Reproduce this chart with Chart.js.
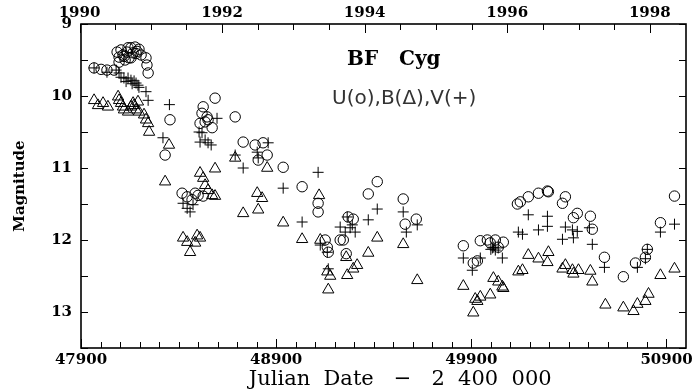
<!DOCTYPE html>
<html>
<head>
<meta charset="utf-8">
<script src="https://cdn.jsdelivr.net/npm/chart.js@4.4.1/dist/chart.umd.min.js"></script>
<style>
  html, body { margin: 0; padding: 0; background: #fff; }
</style>
</head>
<body>
<canvas id="chart" width="696" height="392"></canvas>
<script>
// BF Cyg light curve: Julian Date - 2400000 vs magnitude

// U (circles)
const uDate = [
  47967, 48003, 48033, 48069, 48085, 48095, 48095, 48105, 48115, 48126, 48136,
  48146, 48156, 48156, 48167, 48177, 48187, 48197, 48208, 48233, 48238, 48244,
  48121, 48141, 48182,
  48331, 48356, 48510, 48520, 48526, 48536, 48546, 48551, 48572, 48587, 48690,
  48731, 48792, 48808, 48833, 48854,
  48418, 48444, 48469, 48485, 48500, 48526,
  48936, 49033, 49115, 49115, 49151, 49162, 49167, 49228, 49244, 49259, 49269,
  49295, 49372, 49418,
  49551, 49561, 49618,
  49859, 49910, 49931, 49946, 49982, 49997, 50023, 50038, 50064, 50136, 50151,
  50192, 50244, 50290, 50295, 50367, 50382, 50423, 50443, 50510, 50520,
  50582, 50679, 50741, 50792, 50802, 50869, 50941
];
const uMag = [
  9.61, 9.63, 9.64, 9.64, 9.39, 9.46, 9.53, 9.36, 9.43, 9.50, 9.39,
  9.47, 9.33, 9.47, 9.40, 9.32, 9.38, 9.35, 9.43, 9.47, 9.57, 9.68,
  9.45, 9.33, 9.41,
  10.82, 10.33, 10.38, 10.24, 10.15, 10.36, 10.29, 10.33, 10.44, 10.03, 10.29,
  10.64, 10.68, 10.89, 10.65, 10.82,
  11.35, 11.40, 11.44, 11.35, 11.38, 11.39,
  10.99, 11.26, 11.49, 11.61, 12.00, 12.10, 12.17, 12.00, 12.00, 12.19, 11.68,
  11.71, 11.36, 11.19,
  11.43, 11.78, 11.71,
  12.08, 12.32, 12.29, 12.01, 12.00, 12.04, 12.00, 12.10, 12.03, 11.50, 11.47,
  11.40, 11.35, 11.32, 11.33, 11.49, 11.40, 11.69, 11.63, 11.67, 11.85,
  12.24, 12.51, 12.32, 12.24, 12.13, 11.76, 11.39
];

// B (triangles)
const bDate = [
  47967, 47987, 48013, 48038, 48090, 48095, 48105, 48115, 48120, 48141,
  48156, 48167, 48172, 48182, 48192, 48197, 48223, 48233, 48244, 48249,
  48331, 48351, 48423, 48444, 48459, 48485, 48495, 48510, 48510, 48526, 48536,
  48551, 48572, 48587, 48587, 48690, 48731, 48803, 48808, 48828, 48854, 48936,
  49033, 49120, 49126, 49162, 49167, 49177, 49259, 49264, 49295, 49315, 49372, 49418,
  49551, 49623,
  49859, 49910, 49920, 49931, 49946, 49997, 50013, 50038, 50059, 50064, 50141,
  50162, 50192, 50244, 50290, 50295, 50367, 50382, 50418, 50423, 50449, 50510, 50520,
  50587, 50679, 50731, 50751, 50792, 50808, 50869, 50941
];
const bMag = [
  10.06, 10.13, 10.10, 10.15, 10.01, 10.06, 10.10, 10.15, 10.19, 10.22,
  10.15, 10.10, 10.13, 10.19, 10.08, 10.22, 10.26, 10.33, 10.38, 10.50,
  11.19, 10.68, 11.97, 12.03, 12.17, 12.04, 11.94, 11.97, 11.07, 11.14, 11.24,
  11.31, 11.38, 11.39, 11.01, 10.86, 11.63, 11.35, 11.58, 11.42, 11.00, 11.76,
  11.99, 11.38, 12.00, 12.44, 12.69, 12.50, 12.24, 12.49, 12.40, 12.35, 12.18, 11.97,
  12.06, 12.56,
  12.64, 13.01, 12.82, 12.85, 12.79, 12.76, 12.53, 12.58, 12.65, 12.67, 12.44,
  12.42, 12.21, 12.26, 12.31, 12.17, 12.40, 12.35, 12.42, 12.47, 12.42, 12.43, 12.58,
  12.90, 12.94, 12.99, 12.89, 12.85, 12.75, 12.49, 12.40
];

// V (crosses)
const vDate = [
  47967, 48033, 48080, 48095, 48105, 48120, 48131, 48141, 48156, 48162, 48172,
  48182, 48192, 48197, 48233, 48244,
  48320, 48353, 48423, 48444, 48459, 48474, 48505, 48510, 48520, 48536, 48551,
  48567, 48597, 48690, 48731, 48803, 48808, 48859, 48936,
  49033, 49115, 49126, 49162, 49167, 49228, 49254, 49264, 49279, 49290, 49305,
  49372, 49418,
  49551, 49567, 49623,
  49859, 49905, 49946, 50000, 50008, 50015, 50023, 50038, 50059, 50141, 50162,
  50192, 50244, 50290, 50290, 50367, 50382, 50418, 50423, 50443, 50505, 50520,
  50582, 50751, 50792, 50802, 50869, 50941
];
const vMag = [
  9.61, 9.67, 9.64, 9.68, 9.74, 9.75, 9.80, 9.75, 9.78, 9.83, 9.79,
  9.82, 9.85, 9.88, 9.94, 10.06,
  10.58, 10.12, 11.49, 11.56, 11.61, 11.51, 10.50, 10.64, 10.51, 10.61, 10.65,
  10.68, 10.31, 10.82, 11.00, 10.78, 10.86, 10.65, 11.28,
  11.75, 11.06, 12.07, 12.17, 12.40, 11.82, 11.89, 11.68, 11.83, 11.79, 11.89,
  11.72, 11.57,
  11.61, 11.89, 11.79,
  12.25, 12.42, 12.25, 12.13, 12.11, 12.10, 12.14, 12.11, 12.25, 11.89, 11.92,
  11.65, 11.86, 11.67, 11.81, 11.99, 11.82, 11.86, 11.97, 11.88, 11.83, 12.06,
  12.38, 12.38, 12.26, 12.13, 11.89, 11.78
];

// axis ticks
const dayTicks = [47900, 48000, 48100, 48200, 48300, 48400, 48500, 48600, 48700, 48800,
  48900, 49000, 49100, 49200, 49300, 49400, 49500, 49600, 49700, 49800, 49900, 50000,
  50100, 50200, 50300, 50400, 50500, 50600, 50700, 50800, 50900];
const dayLabels = [47900, 48900, 49900, 50900];
const yearTicks = [1990, 1990.5, 1991, 1991.5, 1992, 1992.5, 1993, 1993.5, 1994, 1994.5,
  1995, 1995.5, 1996, 1996.5, 1997, 1997.5, 1998];
const yearLabels = [1990, 1992, 1994, 1996, 1998];

const serif = '"DejaVu Serif", serif';
const yearToJD = y => 47892.5 + (y - 1990) * 365.25;
const toPoints = (dates, mags) => dates.map((d, i) => ({ x: d, y: mags[i] }));

const tickFont = { family: serif, size: 15, weight: 'bold' };

// inward tick marks, frame and the two text notes
const frameTicks = {
    id: "frameTicks",
    afterDatasetsDraw(chart) {
        const { ctx, chartArea: a, scales } = chart;
        ctx.save();
        ctx.strokeStyle = "#000";
        ctx.lineWidth = 1;
        ctx.beginPath();
        scales.x.ticks.forEach(t => {
            const px = Math.round(scales.x.getPixelForValue(t.value)) + 0.5;
            const len = t.label ? 9 : 6;
            ctx.moveTo(px, a.bottom);
            ctx.lineTo(px, a.bottom - len);
        });
        scales.x2.ticks.forEach(t => {
            const px = Math.round(scales.x2.getPixelForValue(t.value)) + 0.5;
            const len = t.label ? 9 : 6;
            ctx.moveTo(px, a.top);
            ctx.lineTo(px, a.top + len);
        });
        scales.y.ticks.forEach(t => {
            const py = Math.round(scales.y.getPixelForValue(t.value)) + 0.5;
            ctx.moveTo(a.left, py);
            ctx.lineTo(a.left + 7, py);
            ctx.moveTo(a.right, py);
            ctx.lineTo(a.right - 7, py);
        });
        ctx.stroke();

        ctx.lineWidth = 1.6;
        ctx.strokeRect(a.left, a.top, a.right - a.left, a.bottom - a.top);

        ctx.fillStyle = "#000";
        ctx.textAlign = "center";
        ctx.textBaseline = "middle";
        ctx.font = 'bold 20px ' + serif;
        ctx.fillText("BF   Cyg", scales.x.getPixelForValue(49503), scales.y.getPixelForValue(9.5));
        ctx.fillStyle = "#333";
        ctx.font = '20px "DejaVu Sans", sans-serif';
        ctx.fillText("U(o),B(\u0394),V(+)", scales.x.getPixelForValue(49556), scales.y.getPixelForValue(10.04));
        ctx.restore();
    }
};

const markerStyle = {
    borderColor: "#000",
    backgroundColor: "rgba(0,0,0,0)",
    borderWidth: 1,
    showLine: false
};

const ctx = document.getElementById("chart").getContext("2d");
const chart = new Chart(ctx, {
    type: "scatter",
    data: {
        datasets: [
            { ...markerStyle, label: "U", data: toPoints(uDate, uMag), pointStyle: "circle", pointRadius: 5.2 },
            { ...markerStyle, label: "B", data: toPoints(bDate, bMag), pointStyle: "triangle", pointRadius: 6.5 },
            { ...markerStyle, label: "V", data: toPoints(vDate, vMag), pointStyle: "cross", pointRadius: 5.5 }
        ]
    },
    options: {
        responsive: false,
        animation: false,
        layout: { padding: 0 },
        plugins: {
            legend: { display: false },
            tooltip: { enabled: false }
        },
        scales: {
            x: {
                type: "linear",
                position: "bottom",
                min: 47900,
                max: 51000,
                grid: { display: false, drawTicks: false },
                border: { display: false },
                afterBuildTicks: s => { s.ticks = dayTicks.map(v => ({ value: v })); },
                ticks: {
                    autoSkip: false,
                    maxRotation: 0,
                    padding: 3,
                    color: "#000",
                    font: tickFont,
                    callback: v => dayLabels.includes(v) ? String(v) : ""
                },
                title: {
                    display: true,
                    text: "     Julian  Date   \u2212   2  400  000",
                    color: "#000",
                    font: { family: serif, size: 21 },
                    padding: { top: 0, bottom: 0 }
                },
                afterFit: s => { s.height = 44; }
            },
            x2: {
                type: "linear",
                position: "top",
                min: 47900,
                max: 51000,
                grid: { display: false, drawTicks: false },
                border: { display: false },
                afterBuildTicks: s => { s.ticks = yearTicks.map(y => ({ value: yearToJD(y) })); },
                ticks: {
                    autoSkip: false,
                    maxRotation: 0,
                    padding: 2,
                    color: "#000",
                    font: tickFont,
                    callback: (v, i) => yearLabels.includes(yearTicks[i]) ? String(yearTicks[i]) : ""
                },
                afterFit: s => { s.height = 24; }
            },
            y: {
                position: "left",
                reverse: true,
                min: 9,
                max: 13.5,
                grid: { display: false, drawTicks: false },
                border: { display: false },
                ticks: {
                    stepSize: 0.5,
                    padding: 9,
                    color: "#000",
                    font: tickFont,
                    callback: v => Number.isInteger(v) ? String(v) : ""
                },
                title: {
                    display: true,
                    text: "Magnitude",
                    color: "#000",
                    font: { family: serif, size: 15, weight: "bold" },
                    padding: { top: 11, bottom: 0 }
                },
                afterFit: s => { s.width = 81; }
            },
            y2: {
                position: "right",
                reverse: true,
                min: 9,
                max: 13.5,
                grid: { display: false, drawTicks: false },
                border: { display: false },
                ticks: { display: false },
                afterFit: s => { s.width = 10; }
            }
        }
    },
    plugins: [frameTicks]
});
</script>
</body>
</html>
